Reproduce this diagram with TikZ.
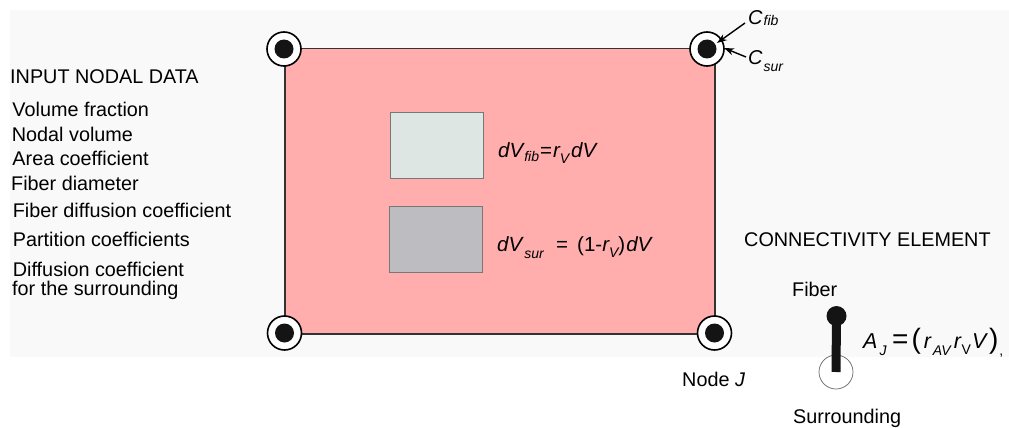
\documentclass[tikz,border=0pt]{standalone}
\usepackage{fontspec}
\setmainfont{Liberation Sans}
\usetikzlibrary{arrows.meta}
\definecolor{bgc}{HTML}{F9F9F9}
\definecolor{pinkf}{HTML}{FFADAD}
\definecolor{fibf}{HTML}{DEE6E4}
\definecolor{surf}{HTML}{BDBCC0}
\definecolor{edgec}{HTML}{333333}
\definecolor{boxedge}{HTML}{777777}
\newcommand\lsub[2][0.3em]{\raisebox{-#1}{\fontsize{14}{14}\selectfont #2}}
\begin{document}
\begin{tikzpicture}[x=1pt,y=-1pt,
  txt/.style={anchor=base west, inner sep=0, font=\fontsize{19.8}{22}\selectfont},
  cornernode/.style={circle, draw=black, line width=1.6pt, fill=white, minimum size=34pt, inner sep=0,
    path picture={\fill[black!92] (path picture bounding box.center) circle (9.5pt);}},
  volbox/.style={draw=boxedge, line width=0.9pt, anchor=north west, inner sep=0},
  eq/.style={anchor=base west, inner sep=0, font=\fontsize{20.5}{22}\selectfont\itshape},
  pointer/.style={-{Stealth[length=10pt,width=7pt]}, line width=1.4pt, black}
]
\useasboundingbox (0,0) rectangle (1009,428);
\fill[white] (0,0) rectangle (1009,428);
\fill[bgc] (10,10) rectangle (1009,357);

% element
\node[draw=edgec, line width=1.5pt, fill=pinkf, anchor=north west, inner sep=0,
      minimum width=430pt, minimum height=285pt] (elem) at (284,48) {};
\node[volbox, fill=fibf, minimum width=93pt, minimum height=66pt] (fibbox) at (390,112) {};
\node[volbox, fill=surf, minimum width=93pt, minimum height=66pt] (surbox) at (389,206) {};

\node[eq] (eqfib) at (498,157) {dV\kern1pt\lsub[0.2em]{fib}\kern1pt\upshape=\kern1pt\itshape r\lsub{V}\kern2pt dV};
\node[eq] (eqsur) at (497,251) {dV\kern2pt\lsub[0.35em]{sur}\hspace{0.6em}\upshape=\hspace{0.45em}(1-\itshape r\lsub{V}\upshape)\kern1pt\itshape dV};

% corner nodes
\node[cornernode] (ntl) at (284,49) {};
\node[cornernode] (ntr) at (707,49) {};
\node[cornernode] (nbl) at (284.5,333) {};
\node[cornernode] (nbr) at (714.5,333) {};

% C labels
\node[anchor=base west, inner sep=0, font=\fontsize{20}{22}\selectfont\itshape] (cfib) at (748,25) {C\kern1pt\lsub[0.05em]{fib}};
\node[anchor=base west, inner sep=0, font=\fontsize{20}{22}\selectfont\itshape] (csur) at (748,65) {C\kern1pt\lsub[0.3em]{sur}};
\coordinate (cfibtail) at (745,23);
\coordinate (cfibtip) at (717,43);
\coordinate (csurtail) at (746,57);
\coordinate (csurtip) at (724,48);
\draw[pointer] (cfibtail) -- (cfibtip);
\draw[pointer] (csurtail) -- (csurtip);

% input data
\node[txt] (hdr) at (10,84) {INPUT NODAL DATA};
\node[txt] (t1) at (12.3,116.7) {Volume fraction};
\node[txt] (t2) at (11.7,141.7) {Nodal volume};
\node[txt] (t3) at (12.3,165.7) {Area coefficient};
\node[txt] (t4) at (11,190.7) {Fiber diameter};
\node[txt] (t5) at (12.7,217) {Fiber diffusion coefficient};
\node[txt] (t6) at (12.7,246.7) {Partition coefficients};
\node[txt] (t7) at (12.7,276) {Diffusion coefficient};
\node[txt] (t8) at (12,295) {for the surrounding};

% connectivity element
\node[txt] (conn) at (744,246) {CONNECTIVITY ELEMENT};
\node[txt] (fibl) at (792,296.7) {Fiber};
\node[txt] (nodej) at (682,386.7) {Node \textit{J}};
\node[txt] (surl) at (793,423) {Surrounding};
\node[circle, draw=black!60, line width=0.7pt, minimum size=34pt, inner sep=0] (surc) at (836,372) {};
\node[circle, fill=black!92, minimum size=20pt, inner sep=0] (fibc) at (836.5,316) {};
\draw[line width=9pt, black!92] (fibc.center) -- (surc.center);

\node[anchor=base west, inner sep=0, font=\fontsize{21.5}{24}\selectfont] (aj) at (863,348)
  {\textit{A}\kern2pt\lsub[0.35em]{\textit{J}}\hspace{0.25em}{\fontsize{28}{28}\selectfont=}\hspace{0.15em}{\fontsize{28}{28}\selectfont(}\kern3pt\textit{r}\kern1pt\lsub[0.35em]{\textit{AV}}\kern2pt\textit{r}\lsub[0.3em]{V}\kern1pt\textit{V}\kern1pt{\fontsize{28}{28}\selectfont)}\kern1pt\lsub[0.35em]{,}};
\end{tikzpicture}
\end{document}
